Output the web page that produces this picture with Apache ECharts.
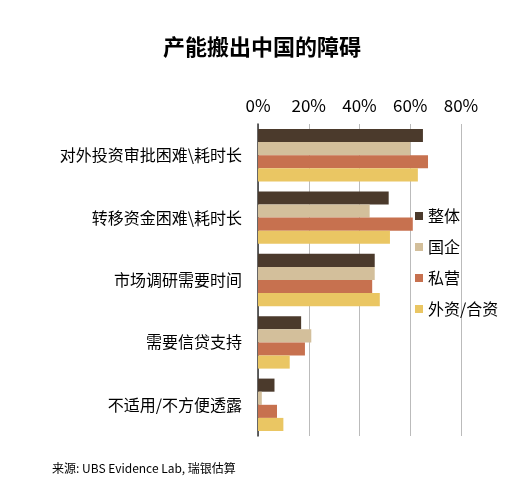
<!DOCTYPE html>
<html><head><meta charset="utf-8">
<script src="https://cdn.jsdelivr.net/npm/echarts@6/dist/echarts.min.js"></script>
<style>html,body{margin:0;padding:0;background:#fff}#c{width:524px;height:494px}</style>
</head><body><div id="c"></div>
<script>
const categories = ['对外投资审批困难\\耗时长','转移资金困难\\耗时长','市场调研需要时间','需要信贷支持','不适用/不方便透露'];
const seriesNames = ['整体','国企','私营','外资/合资'];
const overall = [65, 51.5, 46, 17, 6.5];
const soe = [60, 44, 46, 21, 1.5];
const privateCo = [67, 61, 45, 18.5, 7.5];
const foreign = [63, 52, 48, 12.5, 10];
const colors = ['#4b3a2c','#d3bf9b','#c7714f','#eac663'];
const vals = [overall, soe, privateCo, foreign];
const chart = echarts.init(document.getElementById('c'));
const font = '"Noto Sans CJK SC", sans-serif';
chart.setOption({
  animation:false,
  title:{text:'产能搬出中国的障碍',left:'center',top:31,textStyle:{fontFamily:font,fontSize:22,fontWeight:'bold',color:'#000'}},
  graphic:[{type:'text',left:52,top:462,style:{text:'来源: UBS Evidence Lab, 瑞银估算',font:'12px "Noto Sans CJK SC"',fill:'#000'}}],
  legend:{orient:'vertical',left:410,top:203,itemWidth:8,itemHeight:8,itemGap:15,icon:'rect',
    textStyle:{fontFamily:font,fontSize:16,color:'#000'},data:seriesNames},
  grid:{left:258,width:203,top:124,bottom:58},
  xAxis:{type:'value',position:'top',min:0,max:80,interval:20,
    axisLabel:{formatter:'{value}%',fontFamily:font,fontSize:17,color:'#000',margin:10},
    axisLine:{show:false},axisTick:{show:false},splitLine:{lineStyle:{color:'#bbb'}}},
  yAxis:{type:'category',inverse:true,data:categories,
    axisLabel:{fontFamily:font,fontSize:16,color:'#000',margin:16},
    axisTick:{show:false},axisLine:{lineStyle:{color:'#333',width:1.5}}},
  series:seriesNames.map((n,i)=>({name:n,type:'bar',data:vals[i],barGap:'0%',barCategoryGap:'16%',itemStyle:{color:colors[i]}}))
});
</script></body></html>
